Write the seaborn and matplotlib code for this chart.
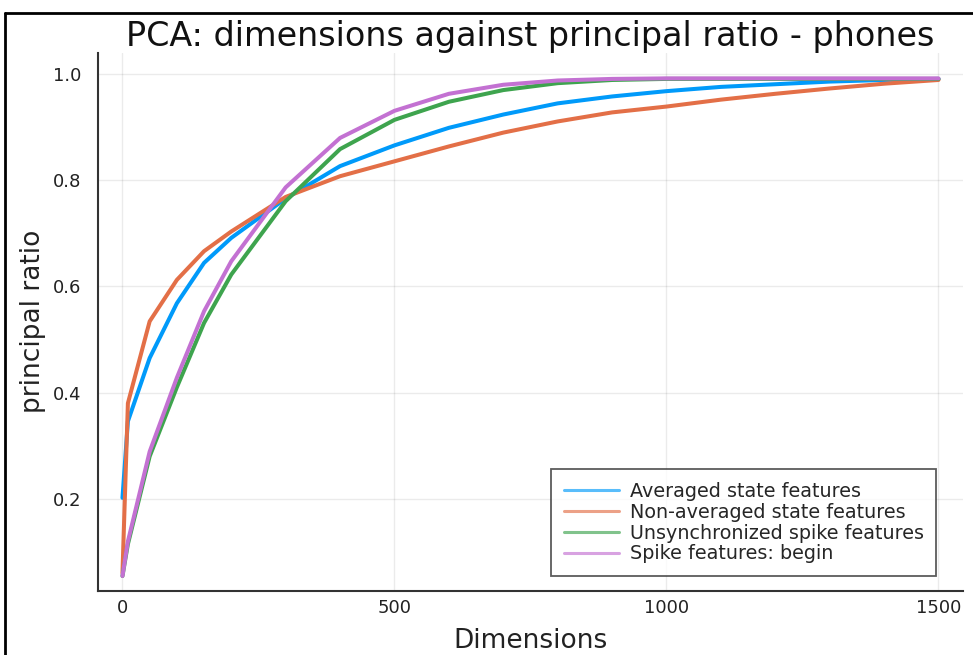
import numpy as np
import pandas as pd
import matplotlib
matplotlib.use("Agg")
import matplotlib.pyplot as plt
from matplotlib.lines import Line2D
import seaborn as sns

dims = [0, 10, 50, 100, 150, 200, 300, 400, 500, 600, 700, 800, 900, 1000,
        1100, 1200, 1300, 1400, 1500]
averaged = [0.202, 0.346, 0.465, 0.568, 0.644, 0.691, 0.765, 0.826, 0.865, 0.898,
            0.923, 0.944, 0.957, 0.967, 0.975, 0.980, 0.985, 0.988, 0.990]
non_averaged = [0.061, 0.380, 0.534, 0.612, 0.666, 0.703, 0.768, 0.807, 0.835, 0.863,
                0.889, 0.910, 0.927, 0.938, 0.951, 0.962, 0.972, 0.981, 0.988]
unsync = [0.055, 0.115, 0.280, 0.410, 0.531, 0.622, 0.760, 0.858, 0.913, 0.947,
          0.969, 0.982, 0.988, 0.990, 0.990, 0.990, 0.990, 0.990, 0.990]
spike_begin = [0.055, 0.120, 0.289, 0.428, 0.553, 0.647, 0.786, 0.879, 0.930, 0.962,
               0.979, 0.987, 0.990, 0.991, 0.991, 0.991, 0.991, 0.991, 0.991]

series_names = ["Averaged state features", "Non-averaged state features",
                "Unsynchronized spike features", "Spike features: begin"]
colors = ["#009AFA", "#E36F47", "#3EA44E", "#C371D2"]

frames = []
for name, vals in zip(series_names, [averaged, non_averaged, unsync, spike_begin]):
    frames.append(pd.DataFrame({"Dimensions": dims, "ratio": vals, "series": name}))
df = pd.concat(frames, ignore_index=True)

sns.set_style("white")
plt.rcParams['font.family'] = ['DejaVu Sans']

fig = plt.figure(figsize=(9.73, 6.55), dpi=100)
ax = fig.add_axes([0.1007, 0.0977, 0.889, 0.822])

sns.lineplot(data=df, x="Dimensions", y="ratio", hue="series",
             palette=dict(zip(series_names, colors)), linewidth=2.9,
             ax=ax, legend=False, sort=False)

ax.set_xlim(-45, 1545)
ax.set_ylim(0.0268, 1.0395)
ax.set_xticks([0, 500, 1000, 1500])
ax.set_yticks([0.2, 0.4, 0.6, 0.8, 1.0])
ax.set_yticklabels(["0.2", "0.4", "0.6", "0.8", "1.0"])
ax.grid(True, color="black", alpha=0.08, linewidth=1)
for s in ["top", "right"]:
    ax.spines[s].set_visible(False)
for s in ["left", "bottom"]:
    ax.spines[s].set_color("#333333")
    ax.spines[s].set_linewidth(1.5)
ax.tick_params(axis="both", direction="in", length=5, width=1.2, color="#333333",
               labelsize=13, labelcolor="#222222")
ax.tick_params(axis="x", pad=6)
ax.tick_params(axis="y", pad=12)

ax.set_xlabel("Dimensions", fontsize=19, color="#222222", labelpad=8)
ax.set_ylabel("principal ratio", fontsize=19, color="#222222", labelpad=5)
ax.set_title("PCA: dimensions against principal ratio - phones", fontsize=24,
             color="#111111", pad=5, x=0.5)

handles = [Line2D([], [], color=c, linewidth=2.2, alpha=0.65) for c in colors]
leg = ax.legend(handles, series_names, loc="lower right",
                bbox_to_anchor=(0.969, 0.028), fontsize=13.8, frameon=True,
                fancybox=False, handlelength=2.9, handletextpad=0.55,
                labelspacing=0.1, borderpad=0.65, borderaxespad=0)
leg.get_frame().set_edgecolor("#333333")
leg.get_frame().set_linewidth(1.3)

# outer frame of the screenshot (top and left edges visible)
fig.add_artist(Line2D([5/973, 1.0], [1 - 13/655, 1 - 13/655], color="black",
                      linewidth=2, transform=fig.transFigure))
fig.add_artist(Line2D([5/973, 5/973], [0, 1 - 13/655], color="black",
                      linewidth=2, transform=fig.transFigure))

fig.savefig("out.png", dpi=100)
